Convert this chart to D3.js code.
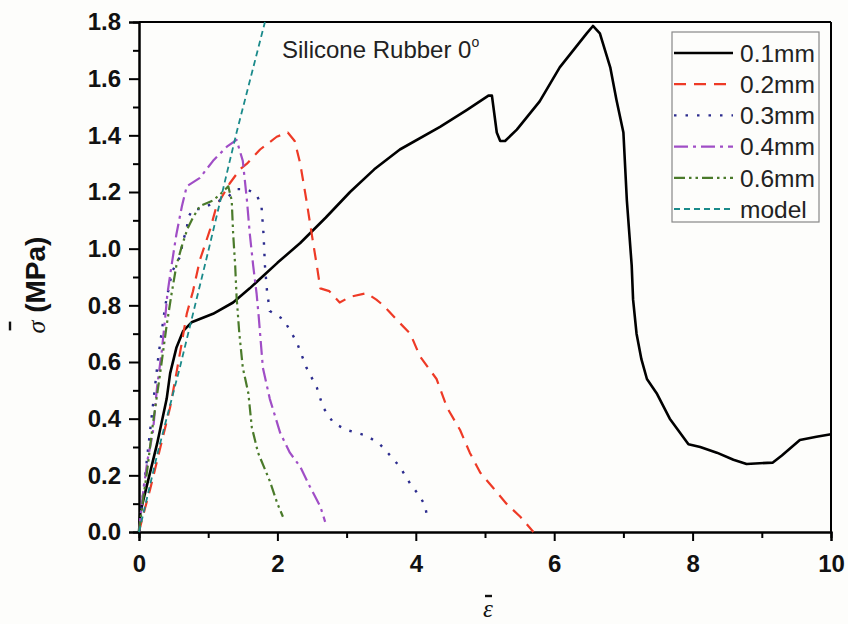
<!DOCTYPE html>
<html>
<head>
<meta charset="utf-8">
<script src="https://cdn.jsdelivr.net/npm/d3@7"></script>
<style>
  html, body { margin: 0; padding: 0; background: #fdfdfb; }
  svg { display: block; }
</style>
</head>
<body>
<svg id="chart" width="848" height="624"></svg>
<script>
// ---------------- data ----------------
const xTicks = [0, 2, 4, 6, 8, 10];
const yTicks = [0.0, 0.2, 0.4, 0.6, 0.8, 1.0, 1.2, 1.4, 1.6, 1.8];
const seriesNames = ["0.1mm", "0.2mm", "0.3mm", "0.4mm", "0.6mm", "model"];

const s01 = [[0,0],[0.02,0.07],[0.11,0.16],[0.26,0.31],[0.40,0.47],[0.45,0.56],[0.54,0.65],[0.64,0.71],[0.76,0.74],[1.07,0.77],[1.36,0.81],[1.6,0.86],[2.0,0.95],[2.33,1.02],[2.7,1.11],[3.05,1.20],[3.4,1.28],[3.77,1.35],[4.35,1.43],[4.74,1.49],[5.05,1.54],[5.10,1.54],[5.17,1.41],[5.22,1.38],[5.29,1.38],[5.46,1.42],[5.79,1.52],[6.08,1.64],[6.47,1.76],[6.56,1.786],[6.66,1.76],[6.81,1.64],[6.90,1.525],[7.0,1.41],[7.05,1.17],[7.12,0.94],[7.14,0.82],[7.19,0.70],[7.26,0.61],[7.34,0.54],[7.48,0.49],[7.67,0.40],[7.94,0.31],[8.11,0.30],[8.35,0.28],[8.59,0.255],[8.78,0.24],[9.16,0.245],[9.29,0.27],[9.55,0.325],[9.79,0.336],[10,0.345]];
const s02 = [[0,0],[0.05,0.05],[0.16,0.15],[0.30,0.29],[0.45,0.44],[0.54,0.56],[0.62,0.67],[0.69,0.77],[0.78,0.85],[0.88,0.96],[1.03,1.07],[1.12,1.15],[1.31,1.23],[1.46,1.28],[1.56,1.30],[1.75,1.35],[1.99,1.395],[2.15,1.41],[2.25,1.38],[2.33,1.30],[2.42,1.17],[2.51,1.03],[2.57,0.94],[2.62,0.86],[2.75,0.85],[2.9,0.81],[3.05,0.83],[3.29,0.843],[3.43,0.82],[3.53,0.80],[3.72,0.75],[3.92,0.70],[4.06,0.62],[4.18,0.58],[4.30,0.54],[4.45,0.44],[4.64,0.36],[4.78,0.28],[4.93,0.21],[5.12,0.155],[5.31,0.10],[5.51,0.054],[5.70,0.0]];
const s03 = [[0,0],[0.08,0.18],[0.18,0.40],[0.28,0.62],[0.38,0.80],[0.48,0.92],[0.59,0.97],[0.64,1.03],[0.69,1.07],[0.71,1.11],[0.78,1.14],[0.88,1.14],[1.07,1.16],[1.27,1.18],[1.41,1.21],[1.56,1.21],[1.70,1.19],[1.77,1.15],[1.80,1.05],[1.82,0.94],[1.85,0.85],[1.89,0.78],[2.09,0.75],[2.28,0.67],[2.42,0.58],[2.57,0.51],[2.66,0.44],[2.81,0.385],[3.0,0.36],[3.29,0.34],[3.48,0.31],[3.63,0.27],[3.77,0.23],[3.92,0.17],[4.06,0.125],[4.13,0.095],[4.16,0.06]];
const s04 = [[0,0],[0.05,0.12],[0.12,0.25],[0.20,0.35],[0.26,0.51],[0.33,0.64],[0.38,0.76],[0.41,0.84],[0.47,0.94],[0.54,1.05],[0.62,1.15],[0.69,1.22],[0.88,1.25],[1.07,1.31],[1.27,1.36],[1.41,1.384],[1.50,1.31],[1.56,1.17],[1.60,1.055],[1.65,0.94],[1.70,0.84],[1.73,0.76],[1.79,0.58],[1.89,0.47],[2.04,0.35],[2.18,0.28],[2.33,0.23],[2.47,0.16],[2.62,0.09],[2.69,0.036]];
const s06 = [[0,0],[0.05,0.10],[0.12,0.22],[0.20,0.38],[0.30,0.55],[0.40,0.73],[0.47,0.84],[0.54,0.94],[0.62,1.01],[0.70,1.07],[0.78,1.11],[0.88,1.15],[1.07,1.17],[1.21,1.20],[1.29,1.22],[1.34,1.17],[1.36,1.055],[1.39,0.94],[1.41,0.83],[1.45,0.70],[1.50,0.58],[1.58,0.49],[1.63,0.37],[1.72,0.28],[1.89,0.18],[2.0,0.10],[2.08,0.054]];
const sModel = [[0,0],[0.26,0.27],[0.59,0.58],[1.0,0.99],[1.41,1.41],[1.82,1.80]];

// ---------------- layout ----------------
const W = 848, H = 624;
const m = { left: 139, right: 848 - 831, top: 22, bottom: 624 - 532 };
const svg = d3.select("#chart");
const SANS = "Liberation Sans, Arial, Helvetica, sans-serif";
const SERIF = "Liberation Serif, Times New Roman, serif";

const x = d3.scaleLinear().domain([0, 10]).range([m.left, W - m.right]);
const y = d3.scaleLinear().domain([0, 1.8]).range([H - m.bottom, m.top]);

const styles = [
  { data: s01, color: "#000000", dash: null, width: 2.6 },
  { data: s02, color: "#ee3a26", dash: "12,8", width: 2.2 },
  { data: s03, color: "#2c2c8e", dash: "2.5,9", width: 2.4 },
  { data: s04, color: "#a04ec6", dash: "14,5,3,5", width: 2.2 },
  { data: s06, color: "#4a7a2a", dash: "11,4,2.5,4,2.5,4", width: 2.2 },
  { data: sModel, color: "#1a8a8a", dash: "6,4", width: 1.8 }
];

// frame (top and right)
svg.append("line").attr("x1", x(0)).attr("x2", x(10)).attr("y1", y(1.8)).attr("y2", y(1.8))
  .attr("stroke", "#000").attr("stroke-width", 2);
svg.append("line").attr("x1", x(10)).attr("x2", x(10)).attr("y1", y(0)).attr("y2", y(1.8))
  .attr("stroke", "#000").attr("stroke-width", 2);

// axes
const xAxis = d3.axisBottom(x).tickValues(xTicks).tickSize(9).tickPadding(6).tickFormat(d3.format("d"));
const yAxis = d3.axisLeft(y).tickValues(yTicks).tickSize(10).tickPadding(8).tickFormat(d3.format(".1f"));

const gx = svg.append("g").attr("transform", `translate(0,${y(0)})`).call(xAxis);
const gy = svg.append("g").attr("transform", `translate(${x(0)},0)`).call(yAxis);

// minor ticks
const xMinor = d3.axisBottom(x).tickValues([1, 3, 5, 7, 9]).tickSize(6).tickFormat("");
const yMinor = d3.axisLeft(y).tickValues([0.1, 0.3, 0.5, 0.7, 0.9, 1.1, 1.3, 1.5, 1.7]).tickSize(6).tickFormat("");
const gxm = svg.append("g").attr("transform", `translate(0,${y(0)})`).call(xMinor);
const gym = svg.append("g").attr("transform", `translate(${x(0)},0)`).call(yMinor);

[gx, gy, gxm, gym].forEach(g => {
  g.select(".domain").attr("stroke", "#000").attr("stroke-width", 2);
  g.selectAll(".tick line").attr("stroke", "#000").attr("stroke-width", 2);
  g.selectAll("text").attr("font-family", SANS)
    .attr("font-weight", "bold").attr("font-size", 24).attr("fill", "#111");
});
gx.selectAll("text").attr("y", 40).attr("dy", 0);
gy.selectAll("text").attr("x", -18);

// lines
const lineLin = d3.line().x(d => x(d[0])).y(d => y(d[1]));
const plotG = svg.append("g");
styles.forEach((s) => {
  plotG.append("path").datum(s.data)
    .attr("d", lineLin)
    .attr("fill", "none")
    .attr("stroke", s.color)
    .attr("stroke-width", s.width)
    .attr("stroke-linejoin", "round")
    .attr("stroke-dasharray", s.dash);
});

// annotation
const ann = svg.append("text").attr("x", 282).attr("y", 58)
  .attr("font-family", SANS).attr("font-size", 24).attr("fill", "#222");
ann.append("tspan").text("Silicone Rubber 0");
ann.append("tspan").attr("font-size", 14).attr("dy", -11).text("o");

// legend
const lg = svg.append("g");
lg.append("rect").attr("x", 672).attr("y", 32).attr("width", 147).attr("height", 190)
  .attr("fill", "none").attr("stroke", "#888").attr("stroke-width", 1.2);
seriesNames.forEach((n, i) => {
  const yy = 53 + i * 31.2;
  lg.append("line").attr("x1", 674).attr("x2", 733).attr("y1", yy).attr("y2", yy)
    .attr("stroke", styles[i].color).attr("stroke-width", styles[i].width)
    .attr("stroke-dasharray", styles[i].dash);
  lg.append("text").attr("x", 740).attr("y", yy).attr("dy", "0.36em")
    .attr("font-family", SANS).attr("font-size", 24.5)
    .attr("fill", "#222").text(n);
});

// y axis title
const ytx = 45, yty = 285;
const yt = svg.append("text").attr("transform", `translate(${ytx},${yty}) rotate(-90)`)
  .attr("text-anchor", "middle").attr("font-family", SANS)
  .attr("font-size", 28).attr("font-weight", "bold").attr("fill", "#111");
yt.append("tspan").attr("font-family", SERIF).attr("font-style", "italic")
  .attr("font-weight", "normal").attr("font-size", 26).text("σ");
yt.append("tspan").text(" (MPa)");
// bar over sigma
{
  const tl = yt.node().getComputedTextLength();
  const sw = yt.select("tspan").node().getComputedTextLength();
  const x0 = -tl / 2;
  svg.append("line").attr("transform", `translate(${ytx},${yty}) rotate(-90)`)
    .attr("x1", x0 + 3).attr("x2", x0 + sw - 1).attr("y1", -35).attr("y2", -35)
    .attr("stroke", "#111").attr("stroke-width", 2.4);
}

// x axis title
svg.append("text").attr("x", 488).attr("y", 617).attr("text-anchor", "middle")
  .attr("font-family", SERIF).attr("font-style", "italic")
  .attr("font-size", 25).attr("fill", "#111").text("ε");
svg.append("line").attr("x1", 485).attr("x2", 492).attr("y1", 596).attr("y2", 596)
  .attr("stroke", "#111").attr("stroke-width", 2.4);
</script>
</body>
</html>
